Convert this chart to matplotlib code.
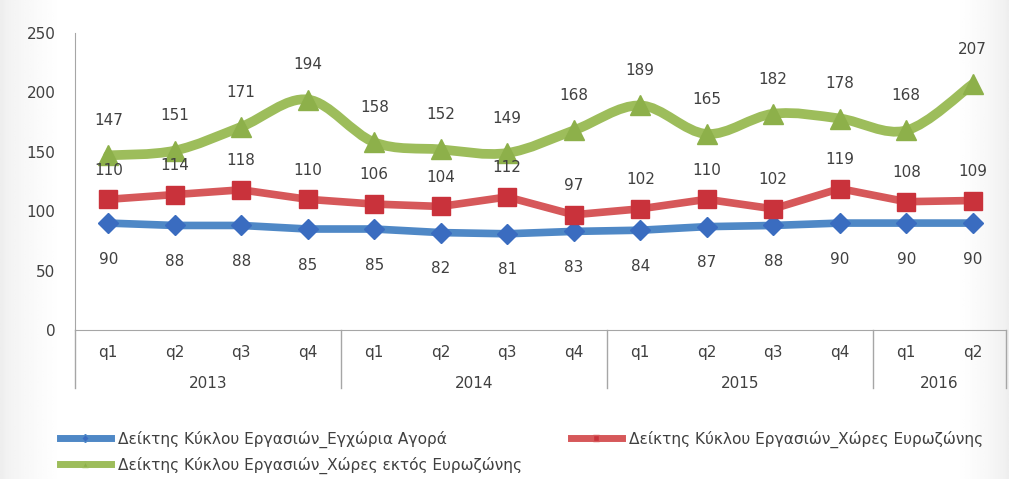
import numpy as np
import matplotlib.pyplot as plt
from matplotlib.path import Path
from matplotlib.patches import PathPatch
from matplotlib.lines import Line2D
import matplotlib.transforms as mtransforms

plt.rcParams['font.family'] = ['DejaVu Sans']

quarters = ['q1', 'q2', 'q3', 'q4', 'q1', 'q2', 'q3', 'q4',
            'q1', 'q2', 'q3', 'q4', 'q1', 'q2']
years = ['2013', '2014', '2015', '2016']
year_sizes = [4, 4, 4, 2]

domestic = [90, 88, 88, 85, 85, 82, 81, 83, 84, 87, 88, 90, 90, 90]
eurozone = [110, 114, 118, 110, 106, 104, 112, 97, 102, 110, 102, 119, 108, 109]
non_euro = [147, 151, 171, 194, 158, 152, 149, 168, 189, 165, 182, 178, 168, 207]

names = ['Δείκτης Κύκλου Εργασιών_Εγχώρια Αγορά',
         'Δείκτης Κύκλου Εργασιών_Χώρες Ευρωζώνης',
         'Δείκτης Κύκλου Εργασιών_Χώρες εκτός Ευρωζώνης']

BLUE_LINE, BLUE_MK = '#4f88c6', '#3a6cc0'
RED_LINE, RED_MK = '#d6585a', '#c9323b'
GREEN_LINE, GREEN_MK = '#9dbd5b', '#8db04a'
TXT = '#404040'
AXC = '#a6a6a6'


def smooth_path(xs, ys):
    # Catmull-Rom style cubic bezier through the points (like Excel smoothing)
    pts = np.column_stack([xs, ys]).astype(float)
    n = len(pts)
    verts = [pts[0]]
    codes = [Path.MOVETO]
    for i in range(n - 1):
        p0 = pts[i - 1] if i > 0 else pts[i]
        p1 = pts[i]
        p2 = pts[i + 1]
        p3 = pts[i + 2] if i + 2 < n else pts[i + 1]
        c1 = p1 + (p2 - p0) / 6.0
        c2 = p2 - (p3 - p1) / 6.0
        verts += [c1, c2, p2]
        codes += [Path.CURVE4] * 3
    return Path(verts, codes)


fig = plt.figure(figsize=(10.09, 4.79), dpi=100)

# soft grey background fading to white in the middle
bg = fig.add_axes([0, 0, 1, 1], zorder=-5)
gx = np.linspace(0, 1, 400)
shade = 0.93 + 0.07 * np.clip(np.minimum(gx / 0.06, (1 - gx) / 0.05), 0, 1) ** 0.6
bg.imshow(np.tile(shade, (20, 1)), cmap='gray', vmin=0, vmax=1,
          aspect='auto', extent=[0, 1, 0, 1])
bg.axis('off')

ax = fig.add_axes([75 / 1009, 1 - 330 / 479, 931 / 1009, 297 / 479])
ax.patch.set_alpha(0)

x = np.arange(len(quarters))

ax.plot(x, domestic, color=BLUE_LINE, lw=5.5, solid_capstyle='round', zorder=3)
ax.plot(x, domestic, ls='none', marker='D', ms=10, color=BLUE_MK, zorder=4)

ax.plot(x, eurozone, color=RED_LINE, lw=5.5, solid_capstyle='round', zorder=3)
ax.plot(x, eurozone, ls='none', marker='s', ms=13, color=RED_MK, zorder=4)

ax.add_patch(PathPatch(smooth_path(x, non_euro), facecolor='none',
                       edgecolor=GREEN_LINE, lw=7, capstyle='round', zorder=3))
ax.plot(x, non_euro, ls='none', marker='^', ms=15, color=GREEN_MK, zorder=4)

# value labels
for i in range(len(x)):
    ax.annotate(str(domestic[i]), (x[i], domestic[i]), xytext=(0, -26),
                textcoords='offset points', ha='center', va='center',
                fontsize=11, color=TXT, zorder=5)
    ax.annotate(str(eurozone[i]), (x[i], eurozone[i]), xytext=(0, 21),
                textcoords='offset points', ha='center', va='center',
                fontsize=11, color=TXT, zorder=5)
    ax.annotate(str(non_euro[i]), (x[i], non_euro[i]), xytext=(0, 25),
                textcoords='offset points', ha='center', va='center',
                fontsize=11, color=TXT, zorder=5)

ax.set_xlim(-0.5, len(x) - 0.5)
ax.set_ylim(0, 250)
ax.set_yticks(range(0, 251, 50))
ax.tick_params(axis='y', length=0, pad=14, labelsize=11, labelcolor=TXT)
ax.set_xticks([])

for side in ['top', 'right']:
    ax.spines[side].set_visible(False)
ax.spines['left'].set_color(AXC)
ax.spines['bottom'].set_color(AXC)

# two-level category axis: quarters and years with separators
trans = mtransforms.blended_transform_factory(ax.transData, ax.transAxes)
sep_bottom = -(388 - 330) / 297
for i, q in enumerate(quarters):
    ax.text(i, -(352 - 330) / 297, q, transform=trans, ha='center',
            va='center', fontsize=11, color=TXT)

start = 0
bounds = [-0.5]
for yr, size in zip(years, year_sizes):
    mid = start + (size - 1) / 2
    ax.text(mid, -(384 - 330) / 297, yr, transform=trans, ha='center',
            va='center', fontsize=11, color=TXT)
    start += size
    bounds.append(start - 0.5)

for b in bounds:
    ax.plot([b, b], [0, sep_bottom], transform=trans, color=AXC, lw=1,
            clip_on=False)
ax.spines['left'].set_bounds(0, 250)

handles = [
    Line2D([], [], color=BLUE_LINE, lw=5, marker='D', ms=4, markerfacecolor=BLUE_MK),
    Line2D([], [], color=GREEN_LINE, lw=5, marker='^', ms=5, markerfacecolor=GREEN_MK),
    Line2D([], [], color=RED_LINE, lw=5, marker='s', ms=4, markerfacecolor=RED_MK),
]
labels = [names[0], names[2], names[1]]
fig.legend(handles, labels, ncol=2, loc='upper left',
           bbox_to_anchor=(52 / 1009, 1 - 423 / 479), frameon=False,
           prop={'family': 'DejaVu Sans', 'size': 11.1},
           labelcolor=TXT, handlelength=3.3, handletextpad=0.45,
           columnspacing=3.2, labelspacing=0.55, borderpad=0)

fig.savefig('out.png', dpi=100)
